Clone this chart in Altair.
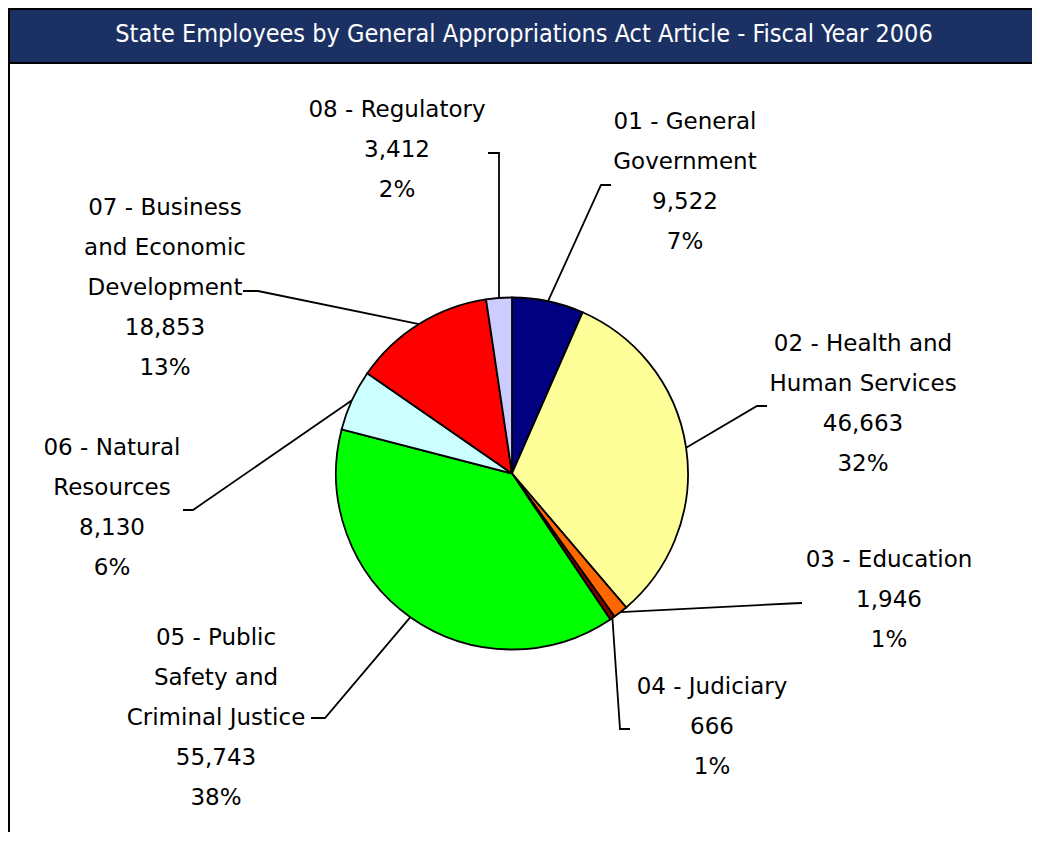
import math
import altair as alt
import pandas as pd

# ---- data ----
categories = [
    "01 - General\nGovernment",
    "02 - Health and\nHuman Services",
    "03 - Education",
    "04 - Judiciary",
    "05 - Public\nSafety and\nCriminal Justice",
    "06 - Natural\nResources",
    "07 - Business\nand Economic\nDevelopment",
    "08 - Regulatory",
]
employees = [9522, 46663, 1946, 666, 55743, 8130, 18853, 3412]
percent_labels = ["7%", "32%", "1%", "1%", "38%", "6%", "13%", "2%"]
colors = ["#000080", "#FFFF99", "#FF6600", "#800000", "#00FF00", "#CCFFFF", "#FF0000", "#CCCCFF"]
title_text = "State Employees by General Appropriations Act Article - Fiscal Year 2006"

# ---- layout (page pixel coordinates) ----
W, H = 1024, 824
OFF = 8
CX, CY, R = 512, 473.5, 176
label_x = [685, 863, 889, 712, 216, 112, 165, 397]
label_y = [122, 344, 560, 687, 638, 448, 208, 110]   # first line of each label
elbow_x = [601, 757, 790, 620, 325, 193, 258, 499]
elbow_y = [185, 406, 603.5, 729, 718, 510, 291, 153]
end_x = [611, 767, 802, 630, 311, 183, 243, 488]
end_y = [185, 406, 603, 729, 718, 510, 291, 153]

total = sum(employees)
pie_df = pd.DataFrame({
    "cat": categories,
    "value": employees,
    "idx": list(range(len(employees))),
})

lbl_df = pd.DataFrame({
    "text": [f"{c}\n{v:,}\n{p}" for c, v, p in zip(categories, employees, percent_labels)],
    "x": label_x,
    "y": label_y,
})

rows = []
cum = 0
for i, v in enumerate(employees):
    mid = (cum + v / 2) / total * 2 * math.pi
    cum += v
    sx = CX + R * math.sin(mid)
    sy = CY - R * math.cos(mid)
    rows.append({"seg": i, "pt": 0, "x": sx, "y": sy})
    rows.append({"seg": i, "pt": 1, "x": elbow_x[i], "y": elbow_y[i]})
    rows.append({"seg": i, "pt": 2, "x": end_x[i], "y": end_y[i]})
lead_df = pd.DataFrame(rows)

xs = alt.Scale(domain=[OFF, OFF + W], nice=False, zero=False)
ys = alt.Scale(domain=[OFF, OFF + H], nice=False, zero=False, reverse=True)

# frame
frame_left = alt.Chart(pd.DataFrame({"a": [0]})).mark_rule(color="black", strokeWidth=2).encode(
    x=alt.value(1), y=alt.value(0), y2=alt.value(H + 5)
)
title_bar = alt.Chart(pd.DataFrame({"a": [0]})).mark_rect(
    fill="#1c3163", stroke="black", strokeWidth=2
).encode(x=alt.value(1), x2=alt.value(W + 10), y=alt.value(1), y2=alt.value(55))
title = alt.Chart(pd.DataFrame({"t": [title_text]})).mark_text(
    color="white", font="DejaVu Sans Condensed", fontSize=25, align="center", baseline="middle"
).encode(x=alt.value(524 - OFF), y=alt.value(34 - OFF), text="t:N")

leaders = alt.Chart(lead_df).mark_line(color="black", strokeWidth=1.8).encode(
    x=alt.X("x:Q", scale=xs, axis=None),
    y=alt.Y("y:Q", scale=ys, axis=None),
    detail="seg:N",
    order="pt:Q",
)

pie = alt.Chart(pie_df).mark_arc(
    outerRadius=R, stroke="black", strokeWidth=1.8
).encode(
    theta=alt.Theta("value:Q", stack=True),
    color=alt.Color("cat:N", scale=alt.Scale(domain=categories, range=colors), legend=None),
    order=alt.Order("idx:Q"),
    x=alt.value(CX - OFF),
    y=alt.value(CY - OFF),
)

labels = alt.Chart(lbl_df).mark_text(
    font="DejaVu Sans", fontSize=23, lineHeight=40, lineBreak="\n",
    align="center", baseline="middle", color="black"
).encode(
    x=alt.X("x:Q", scale=xs, axis=None),
    y=alt.Y("y:Q", scale=ys, axis=None),
    text="text:N",
)

chart = alt.layer(frame_left, title_bar, title, leaders, pie, labels).properties(
    width=W, height=H, autosize=alt.AutoSizeParams(type="none"), padding=0,
    background="white",
).configure_view(stroke=None)

chart.save("out.html", embed_options={"renderer": "svg", "actions": False})
